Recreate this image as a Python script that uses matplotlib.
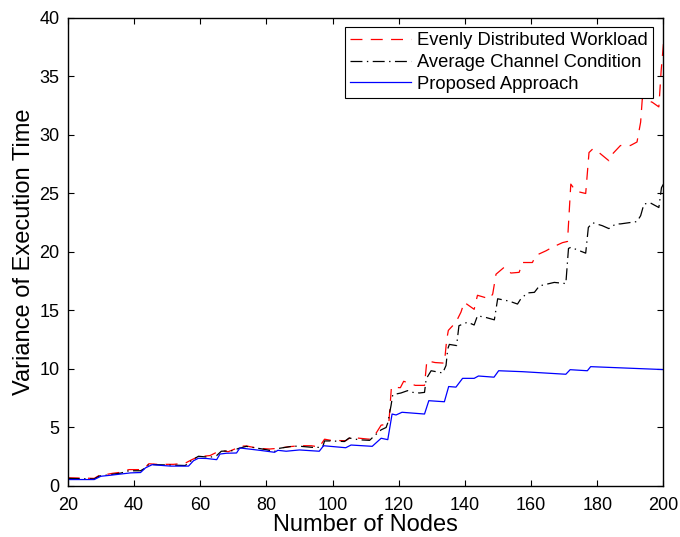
#!/usr/bin/python

# Variance of execution time vs. number of nodes, three scheduling schemes

import matplotlib
matplotlib.use('Agg')
import matplotlib.pyplot as plt

plt.rcParams['font.family'] = ['Liberation Sans', 'DejaVu Sans']
plt.rcParams['lines.scale_dashes'] = False

# Evenly Distributed Workload
x_even = [20, 28, 29.5, 31, 33.5, 36, 38.5, 42, 43.5, 44.5, 47, 52, 55.5, 57.5,
          59.5, 63, 65, 66.5, 68.5, 71, 72, 74, 77.5, 81, 83.5, 87, 90, 93.6, 96,
          97.6, 99.5, 104, 106, 107.5, 111, 113, 114.7, 117, 117.8, 120.5, 121.5,
          125, 127.8, 128.5, 131, 133.8, 134.5, 135, 137.3, 138.8, 139.8, 142.8,
          143.8, 147.4, 148.4, 149.4, 151.9, 153.9, 156.4, 157.4, 160.4, 161.4,
          164.5, 166.4, 169.5, 171, 172, 173.5, 176.5, 177.5, 178.6, 180.5, 183.5,
          184, 186, 187, 190, 192, 193.1, 193.6, 196.6, 198.6, 199.3, 200]
y_even = [0.7, 0.65, 0.9, 0.95, 1.08, 1.17, 1.4, 1.4, 1.6, 1.9, 1.85, 1.85, 1.95, 2.25,
          2.5, 2.6, 2.88, 3.02, 2.93, 3.22, 3.4, 3.42, 3.22, 3.16, 3.22, 3.36, 3.44, 3.44, 3.33,
          4.0, 3.9, 3.87, 4.25, 4.1, 4.0, 4.44, 5.2, 5.3, 8.45, 8.4, 8.95,
          8.6, 8.6, 10.7, 10.55, 10.5, 12.5, 13.3, 14.0, 14.85, 15.7, 15.1,
          16.3, 16.0, 16.4, 18.1, 18.7, 18.2, 18.26, 19.1, 19.1, 19.7,
          20.1, 20.4, 20.8, 20.9, 25.8, 25.2, 25.0, 28.5, 28.8, 28.5, 27.8,
          28.2, 28.8, 29.1, 29.1, 29.4, 31.1, 33.1, 32.8, 32.4, 35.5, 37.8]

# Average Channel Condition
x_avg = [20, 28, 29.5, 31, 33.5, 36, 38.5, 42, 43.5, 44.5, 47, 52, 55.5, 57.5, 59.5,
         63, 65, 66.4, 70, 71.5, 74, 76.5, 80, 82.5, 83.5, 88, 90, 94, 97, 97.6, 99.6,
         103.6, 105, 108, 111.2, 112.7, 114.7, 116.2, 116.7, 117.7, 118.2, 120.7,
         122.7, 124.3, 126.3, 127.8, 128.3, 129.8, 133.3, 134.3, 134.8, 135.3, 137.5,
         138.2, 140.8, 142.8, 143.8, 146.4, 148.9, 149.4, 149.9, 153.4, 155.9, 156.9,
         158.9, 161, 162.5, 167, 170.5, 171.3, 172, 176.5, 177.3, 178.6, 181.5, 183.5,
         185.6, 187, 192, 193.1, 194.1, 196, 198.6, 199.4, 200]
y_avg = [0.65, 0.6, 0.85, 0.9, 1.0, 1.1, 1.3, 1.3, 1.55, 1.85, 1.82, 1.78, 1.75, 2.2, 2.54,
         2.45, 2.6, 2.97, 3.02, 3.2, 3.39, 3.27, 3.1, 2.95, 3.2, 3.4, 3.4, 3.3, 3.3, 3.85, 3.85,
         3.8, 4.1, 3.95, 3.9, 4.3, 4.8, 5.0, 5.4, 6.9, 7.8, 7.95,
         8.15, 8.0, 7.95, 8.0, 9.15, 9.85, 9.66, 10.3, 11.7, 12.1, 12.0,
         13.7, 14.0, 13.76, 14.55, 14.4, 14.2, 15.1, 16.0, 15.8, 15.55, 16.0,
         16.5, 16.55, 17.1, 17.4, 17.3, 20.3, 20.4, 19.9, 22.1, 22.5, 22.25, 22.0,
         22.4, 22.4, 22.6, 23.1, 24.1, 24.2, 23.8, 25.5, 25.8]

# Proposed Approach
x_prop = [20, 28, 30, 33, 39, 42, 43.5, 45.5, 51, 56.5, 58, 59.5, 62, 65, 66, 68, 71,
          72, 78, 82.5, 83.5, 86, 90, 96, 97.3, 104, 105.6, 112, 114.7, 116.7, 118,
          119.2, 121, 127.8, 129.1, 133.8, 135.1, 137.3, 139.3, 142.8, 144.1, 148.8,
          150.2, 157.4, 170.5, 171.8, 177, 178, 200]
y_prop = [0.55, 0.55, 0.83, 0.92, 1.12, 1.15, 1.55, 1.82, 1.7, 1.7, 2.16, 2.37, 2.35,
          2.25, 2.73, 2.8, 2.82, 3.25, 3.05, 2.88, 3.05, 2.97, 3.08, 2.97, 3.44, 3.27, 3.5,
          3.39, 4.08, 3.96, 6.15, 6.07, 6.3, 6.15, 7.29, 7.2, 8.5, 8.45, 9.2, 9.2, 9.4, 9.3,
          9.85, 9.77, 9.55, 9.94, 9.85, 10.2, 9.95]

fig = plt.figure(figsize=(6.8, 5.37), dpi=100)
ax = fig.add_axes([0.0996, 0.095, 0.9757 - 0.0996, 0.9665 - 0.095])

ax.plot(x_even, y_even, color='r', lw=0.9, dashes=(8.6, 6.0), label='Evenly Distributed Workload')
ax.plot(x_avg, y_avg, color='k', lw=0.9, dashes=(8.6, 3.2, 1.0, 3.2), label='Average Channel Condition')
ax.plot(x_prop, y_prop, color='b', lw=0.9, label='Proposed Approach')

ax.set_xlim(20, 200)
ax.set_ylim(0, 40)
ax.set_xticks(range(20, 201, 20))
ax.set_yticks(range(0, 41, 5))
ax.tick_params(direction='in', top=True, right=True, length=4, width=0.8, labelsize=13)
ax.tick_params(axis='x', pad=8)
ax.tick_params(axis='y', pad=6)
for s in ax.spines.values():
    s.set_linewidth(1.0)

ax.set_xlabel('Number of Nodes', fontsize=17, labelpad=0)
ax.set_ylabel('Variance of Execution Time', fontsize=17, labelpad=3)

leg = ax.legend(loc='upper right', bbox_to_anchor=(0.983, 0.981), fontsize=13.2,
                handlelength=3.3, handletextpad=0.35, labelspacing=0.25,
                borderpad=0.3, borderaxespad=0, fancybox=False, framealpha=1)
leg.get_frame().set_edgecolor('k')
leg.get_frame().set_linewidth(0.8)

fig.savefig('out.png', dpi=100)
